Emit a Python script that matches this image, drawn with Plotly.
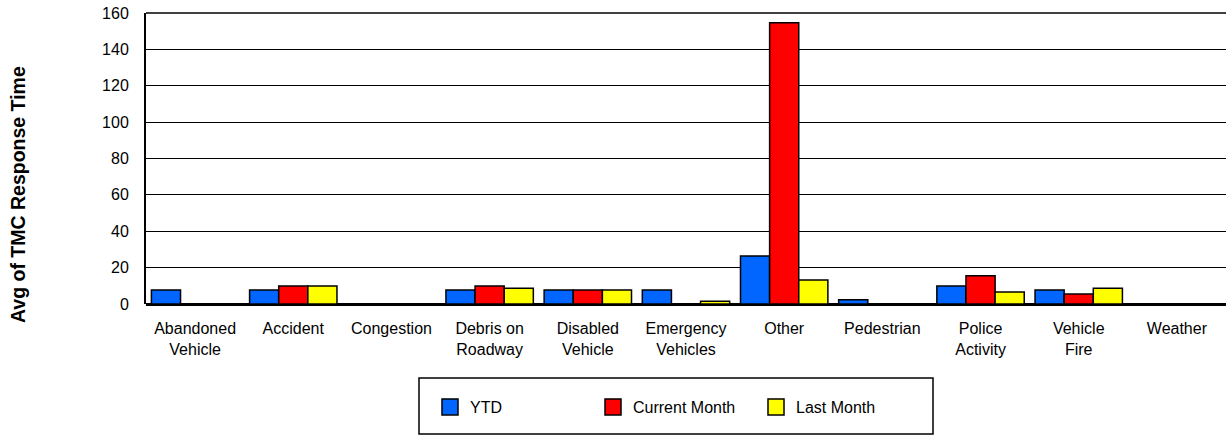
import plotly.graph_objects as go

categories = ["Abandoned<br>Vehicle", "Accident", "Congestion", "Debris on<br>Roadway",
              "Disabled<br>Vehicle", "Emergency<br>Vehicles", "Other", "Pedestrian",
              "Police<br>Activity", "Vehicle<br>Fire", "Weather"]
ytd = [7.7, 7.7, None, 7.7, 7.7, 7.7, 26.4, 2.4, 9.9, 7.7, None]
current_month = [None, 9.9, None, 9.9, 7.7, 0, 154.6, None, 15.5, 5.5, None]
last_month = [None, 9.9, None, 8.6, 7.7, 1.5, 13.2, None, 6.6, 8.6, None]
y_ticks = [0, 20, 40, 60, 80, 100, 120, 140, 160]

series = [("YTD", ytd, "#0066FF"), ("Current Month", current_month, "#FF0000"),
          ("Last Month", last_month, "#FFFF00")]

FONT = "Liberation Sans, Arial, sans-serif"
fig = go.Figure()
for name, vals, col in series:
    fig.add_trace(go.Bar(x=categories, y=vals, name=name, showlegend=False,
                         marker=dict(color=col, line=dict(color="black", width=1.5))))
# legend entries with larger square swatches
for name, vals, col in series:
    fig.add_trace(go.Scatter(x=[None], y=[None], name=name, mode="markers",
                             marker=dict(symbol="square", size=16, color=col,
                                         line=dict(color="black", width=1.5))))

W, H = 1227, 436
L, R, T = 146, 1, 13
B = H - 304
pw, ph = W - L - R, H - T - B

def px(x):
    return (x - L) / pw

def py(y):
    return (H - B - y) / ph

fig.update_layout(
    width=W, height=H,
    margin=dict(l=L, r=R, t=T, b=B, autoexpand=False),
    paper_bgcolor="white", plot_bgcolor="white",
    font=dict(family=FONT, size=16, color="black"),
    barmode="group", bargap=0.11, bargroupgap=0,
    showlegend=True,
    legend=dict(orientation="h", x=px(430), xanchor="left", y=py(407), yanchor="middle",
                entrywidth=118, entrywidthmode="pixels", bgcolor="rgba(0,0,0,0)",
                borderwidth=0, font=dict(size=16), itemsizing="trace"),
    xaxis=dict(showgrid=False, showline=False, ticks="", tickfont=dict(size=16),
               ticklabelstandoff=13, range=[-0.5, 10.5], ticklabeloverflow="allow"),
    yaxis=dict(range=[0, 160], tickvals=y_ticks, showgrid=True, gridcolor="black",
               gridwidth=1, showline=True, linecolor="black", linewidth=2,
               zeroline=True, zerolinecolor="black", zerolinewidth=2.5,
               ticks="", ticklabelstandoff=12, tickfont=dict(size=16),
               ticklabeloverflow="allow"),
    shapes=[dict(type="rect", xref="paper", yref="paper",
                 x0=px(419), x1=px(933), y0=py(434), y1=py(378),
                 line=dict(color="black", width=1.5)),
            dict(type="line", xref="paper", yref="paper",
                 x0=0, x1=1, y0=1, y1=1, line=dict(color="black", width=1.5))],
    annotations=[dict(text="<b>Avg of TMC Response Time</b>", xref="paper", yref="paper",
                      x=px(18), y=py(195), xanchor="center", yanchor="middle",
                      textangle=-90, showarrow=False,
                      font=dict(size=19.5, family=FONT))],
)

fig.write_html("out.html", config={"displayModeBar": False},
               post_script="document.body.style.margin='0';document.body.style.overflow='hidden';")
